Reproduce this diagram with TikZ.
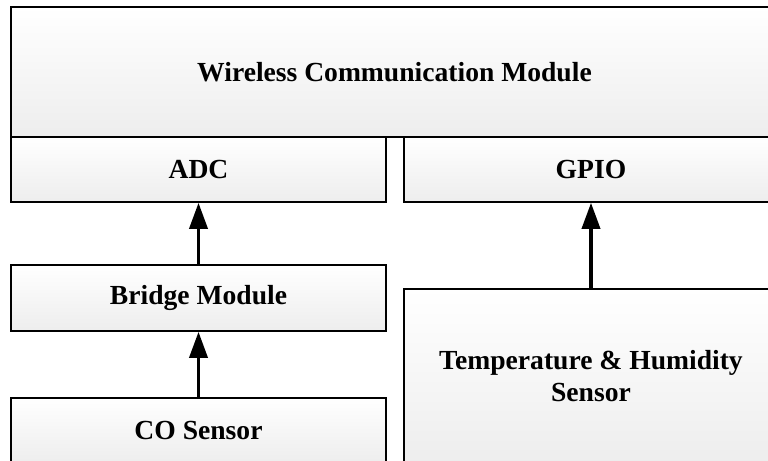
\documentclass[tikz,border=0pt]{standalone}
\usepackage{fontspec}
\setmainfont{Liberation Serif}
\usetikzlibrary{arrows.meta}
\begin{document}
\begin{tikzpicture}[x=1bp,y=-1bp,
  blk/.style={draw=black,line width=1.6bp,top color=white,bottom color=black!7,
    inner sep=0pt,align=center,font=\bfseries\fontsize{27.7}{33}\selectfont},
  sig/.style={line width=3.6bp,-{Triangle[width=18bp,length=26bp]}}]%
\useasboundingbox (0,0) rectangle (768,461);
\clip (0,0) rectangle (768,461);
% module boxes
\node[blk,minimum width=767bp,minimum height=130bp] (wcm) at (394.5,72) {Wireless Communication Module};
\node[blk,minimum width=375bp,minimum height=65bp] (adc) at (198.5,169.5) {ADC};
\node[blk,minimum width=374bp,minimum height=65bp] (gpio) at (591,169.5) {GPIO};
\node[blk,minimum width=375bp,minimum height=66bp] (bridge) at (198.5,298) {Bridge Module};
\node[blk,minimum width=375bp,minimum height=65bp] (co) at (198.5,430.5) {CO Sensor};
\node[blk,minimum width=374bp,minimum height=174bp] (ths) at (591,376) {Temperature \& Humidity\\Sensor};
% signal paths
\draw[sig] (co.north) -- (bridge.south);
\draw[sig] (bridge.north) -- (adc.south);
\draw[sig] (ths.north) -- (gpio.south);
\end{tikzpicture}
\end{document}
